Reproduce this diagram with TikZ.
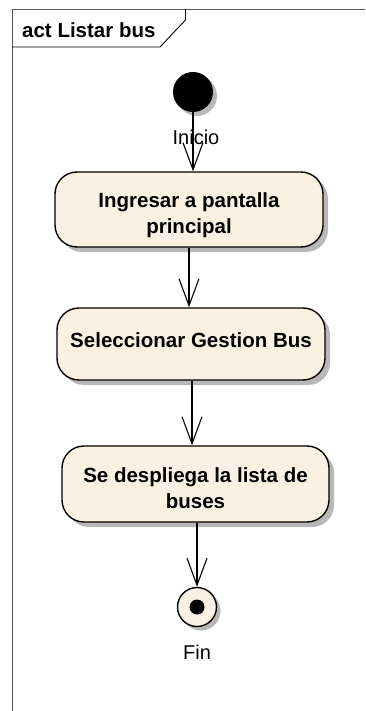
\documentclass[tikz,border=0pt]{standalone}
\usepackage{fontspec}
\setmainfont{Liberation Sans}
\usetikzlibrary{arrows.meta,shadows}
\definecolor{actfill}{HTML}{FBF1E3}
\definecolor{framegray}{HTML}{555555}
\tikzset{
  actbox/.style={draw=black, line width=1.4pt, fill=actfill, rounded corners=22pt,
    minimum width=268pt, align=center, font=\bfseries\fontsize{20.5}{26}\selectfont,
    drop shadow={shadow xshift=5pt, shadow yshift=-5pt, fill=black!28, opacity=1}},
  twoline/.style={text height=52pt, text depth=4pt},
  flow/.style={line width=1.1pt, -{Straight Barb[length=27pt,width=20pt,line width=1.1pt]}},
  lbl/.style={font=\fontsize{20}{22}\selectfont},
}
\begin{document}
\begin{tikzpicture}[x=1pt,y=-1pt]
\useasboundingbox (0,0) rectangle (365,711);
% frame
\draw[framegray, line width=0.9pt] (12,711) -- (12,9) -- (365,9);
\node[font=\bfseries\fontsize{20.5}{22}\selectfont, anchor=west, inner xsep=0pt] (title) at (22,30) {act Listar bus};
\draw[black, line width=0.9pt] (12,47) -- (160,47) -- (185.5,20) -- (185.5,9);
% nodes
\node[circle, fill=black, minimum size=40pt, inner sep=0pt,
  drop shadow={shadow xshift=4pt, shadow yshift=-4pt, fill=black!28, opacity=1}] (start) at (193,92) {};
\node[actbox, twoline, minimum height=75pt] (a1) at (189,209.5) {Ingresar a pantalla\\principal};
\node[actbox, minimum height=72pt, text depth=8pt] (a2) at (191,344) {Seleccionar Gestion Bus};
\node[actbox, twoline, minimum height=76pt, minimum width=267pt] (a3) at (195.5,484) {Se despliega la lista de\\buses};
\node[circle, draw=black, line width=1.4pt, fill=actfill, minimum size=39pt, inner sep=0pt,
  drop shadow={shadow xshift=4pt, shadow yshift=-4pt, fill=black!28, opacity=1}] (end) at (197,607) {};
\node[circle, fill=black, minimum size=15pt, inner sep=0pt] (enddot) at (end.center) {};
\node[lbl] (inicio) at (196,137) {Inicio};
\node[lbl] (fin) at (197,652) {Fin};
% flows
\draw[flow] (start.south) -- (start.south |- a1.north);
\draw[flow] (a1.south) -- (a1.south |- a2.north);
\draw[flow] ([xshift=1pt]a2.south) -- ([xshift=1pt]a2.south |- a3.north);
\draw[flow] ([xshift=1.5pt]a3.south) -- (end.north);
\end{tikzpicture}
\end{document}
